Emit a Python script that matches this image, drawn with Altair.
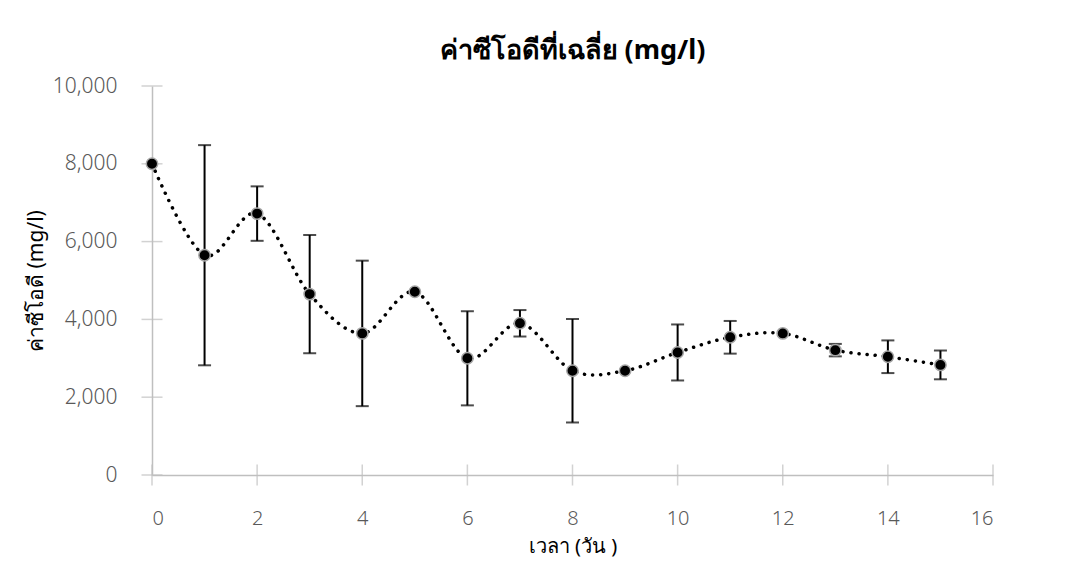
import altair as alt
import pandas as pd

days = list(range(16))
cod = [8000, 5650, 6720, 4650, 3640, 4710, 3000, 3900, 2680, 2680, 3150, 3540, 3640, 3210, 3040, 2830]
sd = [0, 2830, 700, 1520, 1870, 0, 1210, 340, 1330, 0, 720, 420, 0, 160, 420, 370]
y_ticks = [0, 2000, 4000, 6000, 8000, 10000]
x_ticks = [0, 2, 4, 6, 8, 10, 12, 14, 16]

title_text = "ค่าซีโอดีที่เฉลี่ย (mg/l)"
x_title = "เวลา (วัน )"
y_title = "ค่าซีโอดี (mg/l)"

df = pd.DataFrame({"day": days, "cod": cod, "sd": sd})
df["lo"] = df["cod"] - df["sd"]
df["hi"] = df["cod"] + df["sd"]
err = df[df["sd"] > 0]
caps = pd.concat([
    pd.DataFrame({"day": err["day"], "cod": err["lo"]}),
    pd.DataFrame({"day": err["day"], "cod": err["hi"]}),
])
yt = pd.DataFrame({"cod": y_ticks})
xt = pd.DataFrame({"day": x_ticks})

FONT = "Noto Sans"
GRAY = "#bfbfbf"
LAB = "#595959"

xscale = alt.Scale(domain=[0, 16], nice=False, zero=False)
yscale = alt.Scale(domain=[0, 10000], nice=False)

xaxis = alt.Axis(values=x_ticks, ticks=False, grid=False, domainColor=GRAY, domainWidth=1.5,
                 labelColor=LAB, labelFontSize=20, labelFont=FONT, labelPadding=33,
                 labelFontWeight=300,
                 titleFont=FONT, titleFontSize=20, titleFontWeight="normal", titleColor="#000",
                 titleY=71, titleBaseline="middle", format="d")
yaxis = alt.Axis(values=y_ticks, ticks=False, grid=False, domainColor=GRAY, domainWidth=1.5,
                 labelColor=LAB, labelFontSize=21, labelFont=FONT, labelPadding=35,
                 labelFontWeight=300, format=",d",
                 titleFont=FONT, titleFontSize=21, titleFontWeight="normal", titleColor="#000",
                 titleX=-116, titleBaseline="middle")

X = alt.X("day:Q", scale=xscale, axis=xaxis, title=x_title)
Y = alt.Y("cod:Q", scale=yscale, axis=yaxis, title=y_title)

base = alt.Chart(df)

ytick_layer = alt.Chart(yt).mark_tick(orient="horizontal", color=GRAY, size=21, thickness=1.5).encode(
    x=alt.datum(0, scale=xscale), y=Y)
xtick_layer = alt.Chart(xt).mark_tick(orient="vertical", color=GRAY, size=21, thickness=1.5).encode(
    x=X, y=alt.datum(0, scale=yscale))

line = base.mark_line(interpolate="cardinal", color="black", strokeWidth=3.5,
                      strokeDash=[0.1, 8], strokeCap="round").encode(x=X, y=Y)

rules = alt.Chart(err).mark_rule(color="black", strokeWidth=2).encode(
    x=X, y=alt.Y("lo:Q", scale=yscale, axis=yaxis, title=y_title), y2="hi:Q")

cap_layer = alt.Chart(caps).mark_tick(orient="horizontal", color="black", size=13, thickness=2).encode(
    x=X, y=Y)

points = base.mark_point(filled=True, shape="circle", size=130, fill="black",
                         stroke="#a6a6a6", strokeWidth=1.5, opacity=1).encode(x=X, y=Y)

chart = alt.layer(ytick_layer, xtick_layer, line, rules, cap_layer, points).properties(
    width=841, height=389,
    background="white",
    autosize=alt.AutoSizeParams(type="none"),
    padding={"left": 144, "top": 78, "right": 74, "bottom": 88},
    title=alt.TitleParams(title_text, font=FONT, fontSize=27, fontWeight="bold", color="#000",
                          anchor="middle", offset=10),
).configure_view(strokeWidth=0, stroke="transparent")

chart.save("out.html", embed_options={"renderer": "svg", "actions": False})
